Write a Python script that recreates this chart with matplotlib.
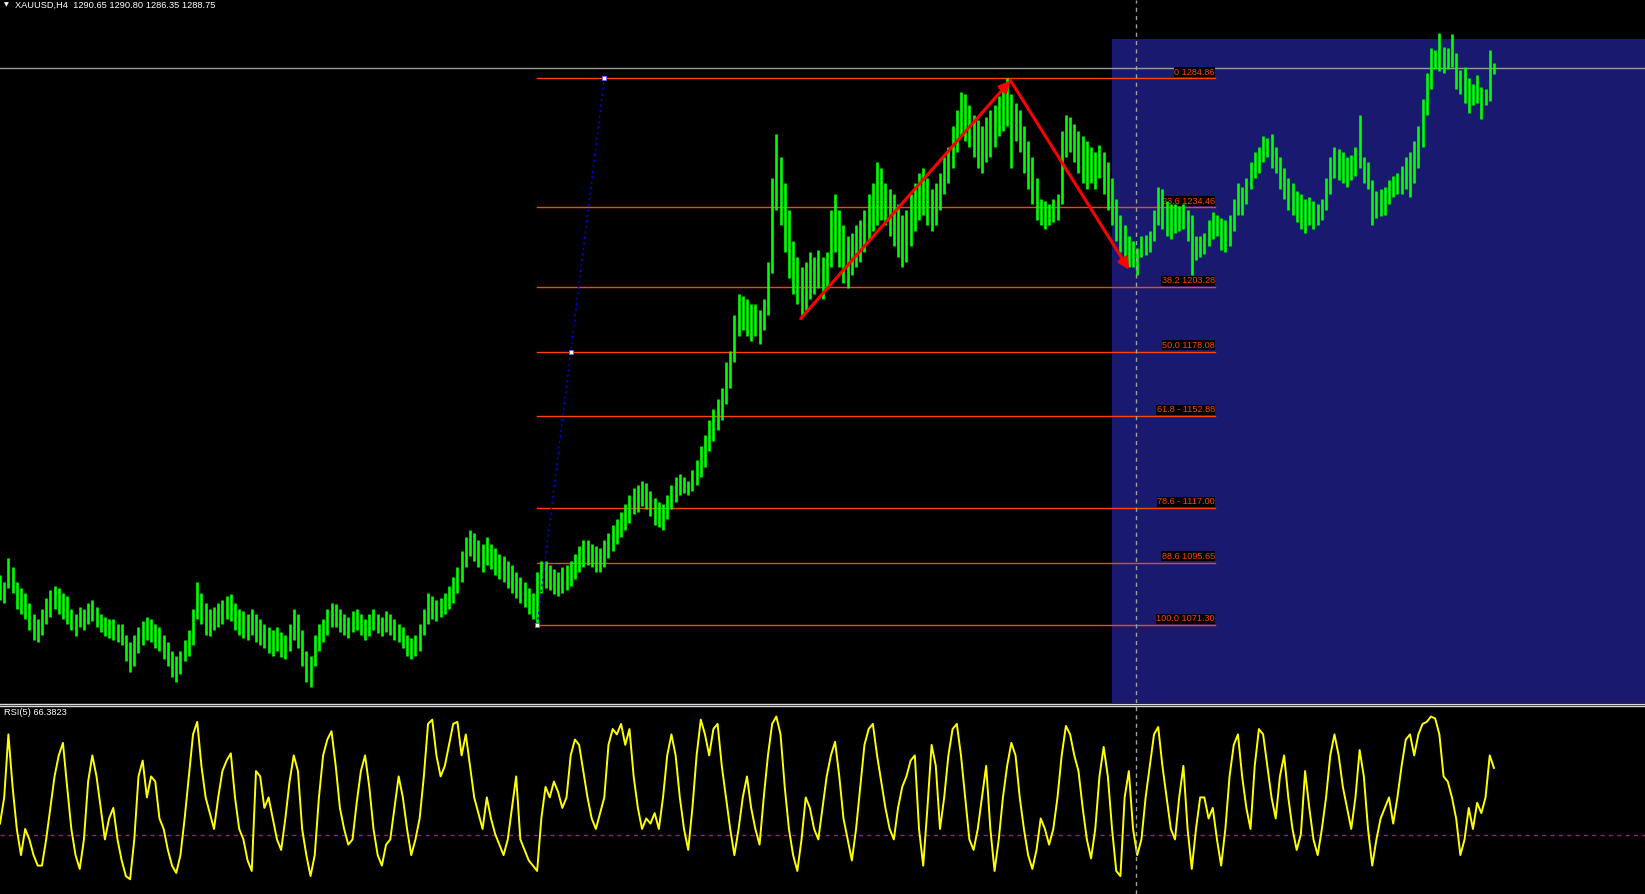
import matplotlib.pyplot as plt
from matplotlib.patches import Rectangle
from matplotlib.lines import Line2D

# XAUUSD H4 - every second bar (high / low)
highs = [
    1090.8, 1088.0, 1097.4, 1094.1, 1088.0, 1085.9, 1083.9, 1079.8, 1075.7, 1073.6,
    1077.7, 1081.8, 1085.1, 1086.7, 1085.9, 1083.9, 1082.6, 1077.7, 1075.7, 1078.5,
    1077.7, 1079.8, 1081.0, 1078.5, 1075.7, 1074.4, 1073.6, 1073.6, 1071.6, 1071.6,
    1067.5, 1064.6, 1067.5, 1070.3, 1072.8, 1074.4, 1073.6, 1071.6, 1070.3, 1067.5,
    1064.6, 1061.3, 1059.3, 1061.3, 1065.4, 1069.5, 1077.7, 1088.0, 1083.9, 1079.8,
    1077.7, 1078.5, 1079.8, 1081.0, 1082.6, 1083.4, 1079.8, 1077.7, 1076.9, 1075.7,
    1077.7, 1075.7, 1073.6, 1071.6, 1070.3, 1069.5, 1070.3, 1068.7, 1067.5, 1071.6,
    1077.7, 1075.7, 1069.5, 1061.3, 1059.3, 1067.5, 1071.6, 1073.6, 1077.7, 1079.8,
    1079.3, 1077.7, 1075.7, 1074.4, 1076.9, 1077.7, 1075.7, 1073.6, 1075.7, 1077.7,
    1075.7, 1074.4, 1076.9, 1075.7, 1073.6, 1071.6, 1070.3, 1067.5, 1066.2, 1067.5,
    1071.6, 1077.7, 1083.9, 1082.6, 1081.0, 1081.8, 1083.9, 1086.7, 1090.0, 1094.1,
    1100.3, 1105.6, 1108.5, 1107.2, 1104.4, 1103.1, 1105.6, 1103.1, 1101.5, 1099.0,
    1098.2, 1096.2, 1094.9, 1092.1, 1090.0, 1088.0, 1085.9, 1083.9, 1092.1, 1096.2,
    1096.2, 1094.9, 1093.3, 1092.1, 1094.1, 1094.9, 1096.2, 1099.0, 1102.3, 1104.4,
    1104.4, 1103.1, 1102.3, 1101.5, 1104.4, 1107.2, 1110.5, 1112.6, 1115.4, 1118.7,
    1122.0, 1124.9, 1126.1, 1127.7, 1126.9, 1123.6, 1120.8, 1119.5, 1118.7, 1122.0,
    1126.1, 1129.0, 1130.2, 1129.0, 1127.7, 1131.8, 1135.9, 1141.3, 1145.4, 1151.5,
    1155.6, 1159.7, 1163.8, 1174.1, 1178.2, 1192.5, 1200.7, 1199.9, 1198.7, 1196.6,
    1196.6, 1194.5, 1198.7, 1213.0, 1245.8, 1263.0, 1254.0, 1243.8, 1233.5, 1221.2,
    1215.1, 1211.0, 1213.0, 1217.1, 1215.1, 1217.9, 1215.1, 1217.1, 1233.5, 1239.7,
    1233.5, 1227.4, 1223.3, 1224.5, 1227.4, 1229.4, 1233.5, 1239.7, 1243.8, 1252.0,
    1249.9, 1243.8, 1241.7, 1239.7, 1235.6, 1231.5, 1233.5, 1239.7, 1243.8, 1247.9,
    1249.9, 1245.8, 1241.7, 1243.8, 1247.9, 1254.0, 1258.1, 1266.3, 1272.5, 1279.4,
    1278.6, 1274.5, 1270.4, 1268.4, 1266.3, 1269.6, 1272.5, 1274.5, 1277.8, 1280.7,
    1284.9, 1278.6, 1275.3, 1272.5, 1266.3, 1260.2, 1254.0, 1245.8, 1237.6, 1236.8,
    1235.6, 1237.6, 1239.7, 1264.3, 1270.4, 1269.6, 1267.1, 1264.3, 1262.2, 1260.2,
    1258.1, 1256.1, 1258.9, 1256.1, 1252.0, 1245.8, 1237.6, 1231.5, 1227.4, 1223.3,
    1221.2, 1218.7, 1223.3, 1223.7, 1225.3, 1233.5, 1242.5, 1241.7, 1236.8, 1235.6,
    1235.6, 1235.1, 1235.6, 1233.5, 1231.5, 1223.3, 1223.3, 1224.5, 1229.4, 1232.7,
    1231.5, 1230.2, 1229.4, 1231.5, 1237.6, 1243.8, 1242.5, 1245.8, 1252.0, 1256.1,
    1258.1, 1262.2, 1261.4, 1263.0, 1258.1, 1254.0, 1249.9, 1245.8, 1243.8, 1240.9,
    1239.7, 1237.6, 1238.4, 1236.8, 1235.6, 1237.6, 1245.8, 1254.0, 1258.1, 1257.3,
    1256.1, 1254.0, 1254.8, 1258.1, 1270.4, 1254.0, 1252.0, 1245.0, 1240.9, 1241.7,
    1242.5, 1245.0, 1246.6, 1247.9, 1250.7, 1254.0, 1256.1, 1260.2, 1266.3, 1276.6,
    1286.8, 1296.6, 1295.8, 1302.4, 1297.0, 1296.6, 1302.0, 1294.6, 1288.0, 1289.3,
    1284.8, 1282.7, 1286.0, 1281.5, 1280.7, 1296.0, 1290.8,
]
lows = [
    1081.0, 1079.8, 1085.9, 1083.9, 1077.7, 1075.7, 1073.6, 1069.5, 1065.4, 1064.6,
    1067.5, 1071.6, 1074.4, 1077.7, 1075.7, 1073.6, 1071.6, 1069.5, 1067.0, 1070.3,
    1069.5, 1071.6, 1072.8, 1070.3, 1068.7, 1067.0, 1066.2, 1065.4, 1064.6, 1063.4,
    1057.2, 1053.1, 1055.2, 1060.5, 1063.4, 1065.4, 1064.6, 1062.1, 1061.3, 1058.0,
    1055.2, 1051.1, 1049.0, 1052.3, 1057.2, 1059.3, 1063.4, 1073.6, 1071.6, 1067.5,
    1067.0, 1069.5, 1070.3, 1071.6, 1073.6, 1072.8, 1069.5, 1067.5, 1066.2, 1065.4,
    1067.5, 1064.6, 1063.4, 1062.1, 1060.5, 1059.3, 1061.3, 1058.8, 1058.0, 1061.3,
    1065.4, 1062.1, 1055.2, 1049.0, 1047.0, 1055.2, 1061.3, 1064.6, 1067.5, 1070.3,
    1070.3, 1068.7, 1067.5, 1066.2, 1068.7, 1069.5, 1067.5, 1065.4, 1067.0, 1069.5,
    1068.3, 1067.0, 1068.7, 1067.5, 1065.4, 1064.6, 1062.1, 1059.3, 1058.0, 1059.3,
    1061.3, 1067.5, 1071.6, 1073.6, 1072.8, 1074.4, 1075.7, 1077.7, 1079.8, 1083.9,
    1088.0, 1094.1, 1098.2, 1096.2, 1094.1, 1092.1, 1094.9, 1093.3, 1090.8, 1089.2,
    1088.0, 1085.9, 1083.9, 1081.8, 1079.8, 1078.5, 1075.7, 1073.6, 1071.3, 1083.9,
    1085.9, 1085.1, 1083.4, 1082.6, 1083.9, 1085.1, 1086.7, 1089.2, 1092.1, 1094.1,
    1094.9, 1094.1, 1092.1, 1092.1, 1094.1, 1097.4, 1100.3, 1103.1, 1105.6, 1108.5,
    1111.3, 1114.6, 1115.4, 1117.9, 1116.7, 1113.8, 1110.5, 1109.7, 1108.5, 1112.6,
    1116.7, 1119.5, 1122.0, 1122.8, 1122.0, 1123.6, 1126.1, 1129.0, 1133.1, 1139.2,
    1143.3, 1147.4, 1151.5, 1157.6, 1163.8, 1174.1, 1184.3, 1186.4, 1184.3, 1182.3,
    1184.3, 1181.0, 1186.4, 1192.5, 1208.9, 1233.5, 1227.4, 1217.1, 1206.9, 1200.7,
    1196.6, 1191.7, 1194.5, 1198.7, 1200.7, 1202.8, 1198.7, 1202.8, 1211.0, 1217.1,
    1211.0, 1204.8, 1202.8, 1208.1, 1211.0, 1213.0, 1217.1, 1221.2, 1225.3, 1227.4,
    1229.4, 1227.4, 1223.3, 1219.2, 1215.1, 1211.0, 1213.0, 1219.2, 1225.3, 1229.4,
    1231.5, 1227.4, 1225.3, 1227.4, 1233.5, 1239.7, 1243.8, 1249.9, 1256.1, 1262.2,
    1260.2, 1258.1, 1254.0, 1249.9, 1247.9, 1252.0, 1254.0, 1258.1, 1262.2, 1264.3,
    1266.3, 1249.9, 1260.2, 1256.1, 1247.9, 1241.7, 1235.6, 1229.4, 1227.4, 1226.1,
    1227.4, 1228.6, 1229.4, 1235.6, 1254.0, 1256.1, 1252.0, 1247.9, 1243.8, 1241.7,
    1243.8, 1241.7, 1245.8, 1239.7, 1233.5, 1227.4, 1221.2, 1217.1, 1213.0, 1211.0,
    1211.0, 1208.1, 1215.1, 1215.9, 1217.1, 1221.2, 1227.4, 1226.1, 1223.3, 1222.0,
    1224.5, 1225.3, 1226.1, 1221.2, 1208.1, 1213.8, 1215.1, 1216.3, 1219.2, 1222.0,
    1223.3, 1217.9, 1217.1, 1219.2, 1225.3, 1231.5, 1231.5, 1235.6, 1241.7, 1245.8,
    1247.9, 1252.0, 1254.0, 1249.9, 1247.9, 1241.7, 1237.6, 1233.5, 1231.5, 1228.6,
    1226.1, 1224.5, 1227.4, 1226.1, 1227.4, 1229.4, 1233.5, 1239.7, 1245.8, 1245.0,
    1243.8, 1242.5, 1245.0, 1246.6, 1249.9, 1243.8, 1241.7, 1227.4, 1230.2, 1231.0,
    1231.5, 1235.6, 1238.4, 1239.7, 1239.7, 1241.7, 1238.4, 1243.8, 1249.9, 1258.1,
    1270.4, 1280.7, 1288.4, 1287.6, 1286.8, 1288.4, 1289.3, 1280.7, 1278.6, 1275.3,
    1271.2, 1274.5, 1275.3, 1268.8, 1274.5, 1276.1, 1286.35,
]
# RSI(5), one value per drawn bar
rsi5 = [
    36.2, 50.4, 84.6, 56.1, 33.3, 19.1, 33.3, 27.6, 19.1, 13.4,
    13.4, 27.6, 44.7, 61.8, 73.2, 80.0, 56.1, 33.3, 19.1, 11.6,
    27.6, 59.0, 73.2, 61.8, 44.7, 27.6, 39.0, 44.7, 27.6, 16.2,
    7.7, 6.0, 27.6, 61.8, 70.4, 50.4, 61.8, 59.0, 39.0, 33.3,
    21.9, 13.4, 9.4, 19.1, 39.0, 61.8, 84.6, 91.4, 67.5, 50.4,
    41.9, 33.3, 50.4, 64.7, 70.4, 74.3, 50.4, 33.3, 27.6, 16.2,
    10.5, 64.7, 61.8, 44.7, 50.4, 39.0, 27.6, 21.9, 39.0, 59.0,
    73.2, 64.7, 33.3, 19.1, 7.7, 19.1, 50.4, 73.2, 81.8, 86.3,
    67.5, 44.7, 33.3, 24.8, 27.6, 47.5, 64.7, 73.2, 56.1, 33.3,
    19.1, 13.4, 24.8, 27.6, 44.7, 61.8, 50.4, 33.3, 19.1, 27.6,
    39.0, 61.8, 90.3, 92.6, 73.2, 61.8, 67.5, 78.9, 90.3, 91.4,
    73.2, 84.6, 67.5, 50.4, 41.9, 33.3, 50.4, 39.0, 30.5, 24.8,
    19.1, 27.6, 44.7, 61.8, 27.6, 21.9, 16.2, 13.4, 10.5, 39.0,
    56.1, 50.4, 59.0, 53.3, 44.7, 50.4, 73.2, 81.8, 78.9, 64.7,
    50.4, 39.0, 33.3, 41.9, 50.4, 78.9, 87.5, 84.6, 90.3, 78.9,
    87.5, 61.8, 44.7, 33.3, 39.0, 36.2, 41.9, 33.3, 50.4, 73.2,
    84.6, 73.2, 50.4, 33.3, 21.9, 44.7, 73.2, 92.6, 84.6, 73.2,
    87.5, 90.3, 67.5, 50.4, 33.3, 19.1, 33.3, 50.4, 61.8, 44.7,
    33.3, 24.8, 50.4, 73.2, 90.3, 94.3, 84.6, 56.1, 33.3, 19.1,
    10.5, 27.6, 50.4, 44.7, 33.3, 27.6, 44.7, 61.8, 73.2, 80.6,
    61.8, 39.0, 27.6, 16.2, 33.3, 56.1, 78.9, 87.5, 90.3, 73.2,
    59.0, 44.7, 33.3, 27.6, 44.7, 56.1, 61.8, 70.4, 73.2, 33.3,
    13.4, 44.7, 78.9, 67.5, 33.3, 50.4, 73.2, 87.5, 90.3, 73.2,
    50.4, 27.6, 21.9, 33.3, 50.4, 67.5, 33.3, 10.5, 27.6, 50.4,
    67.5, 80.0, 73.2, 50.4, 33.3, 19.1, 11.6, 21.9, 39.0, 33.3,
    24.8, 33.3, 50.4, 73.2, 89.2, 84.6, 73.2, 64.7, 44.7, 27.6,
    17.3, 33.3, 61.8, 77.8, 61.8, 33.3, 10.5, 7.7, 50.4, 64.7,
    33.3, 19.1, 27.6, 50.4, 67.5, 84.6, 88.6, 67.5, 50.4, 33.3,
    27.6, 50.4, 67.5, 33.3, 11.6, 33.3, 50.4, 50.4, 39.0, 44.7,
    27.6, 13.4, 33.3, 61.8, 78.9, 84.6, 61.8, 44.7, 33.3, 67.5,
    87.5, 84.6, 67.5, 50.4, 39.0, 61.8, 73.2, 50.4, 33.3, 21.9,
    30.5, 64.7, 44.7, 27.6, 19.1, 33.3, 50.4, 73.2, 84.6, 73.2,
    56.1, 44.7, 33.3, 50.4, 76.1, 61.8, 33.3, 13.4, 27.6, 39.0,
    44.7, 50.4, 36.2, 50.4, 67.5, 81.8, 84.6, 73.2, 84.6, 90.3,
    91.4, 94.3, 93.2, 84.6, 61.8, 59.0, 50.4, 39.0, 19.1, 27.6,
    44.7, 33.3, 47.5, 41.9, 50.4, 73.2, 66.4,
]

# fibonacci retracement object
fib_prices = [1284.86, 1234.46, 1203.28, 1178.08, 1152.88, 1117.00, 1095.65, 1071.30]
fib_labels = ['0 1284.86', '23.6 1234.46', '38.2 1203.28', '50.0 1178.08',
              '61.8 - 1152.88', '78.6 - 1117.00', '88.6 1095.65', '100.0 1071.30']
fib_start, fib_end = 128, 289.5
fib_anchor_bars = [128, 136, 144]
fib_anchor_prices = [1071.30, 1178.08, 1284.86]

# hand drawn arrows
arrow_bars = [190.8, 240.8, 269.1]
arrow_prices = [1191.0, 1284.0, 1210.0]

box_start = 265          # blue rectangle
box_top = 1300.2
cross_bar = 270.8        # crosshair
last_price = 1288.75
rsi_level = 30

header = 'XAUUSD,H4  1290.65 1290.80 1286.35 1288.75'
rsi_title = 'RSI(5) 66.3823'

W, H = 1645, 894
fig = plt.figure(figsize=(W / 100, H / 100), dpi=100, facecolor='black')
ax = fig.add_axes([0, 191 / H, 1, 703 / H])
ax2 = fig.add_axes([0, 0, 1, 188 / H], sharex=ax)
for a in (ax, ax2):
    a.set_axis_off()
ax.set_xlim(0, 392)
ax.set_ylim(1040.8, 1315.45)
ax2.set_ylim(-2, 100)

x = list(range(len(highs)))

ax.add_patch(Rectangle((box_start, 1000), 200, box_top - 1000,
                       facecolor='#191970', edgecolor='none', zorder=0))
ax.axhline(last_price, color='#9a9a9a', lw=1, zorder=1)

# fib levels
fib_color = '#ff4500'
for p, lab in zip(fib_prices, fib_labels):
    ax.plot([fib_start, fib_end], [p, p], color=fib_color, lw=1, zorder=2)
    ax.annotate(lab, (fib_end, p), xytext=(0, 1.2), textcoords='offset points',
                ha='right', va='bottom', color=fib_color, fontsize=6.6,
                family='Liberation Sans', zorder=2,
                bbox=dict(facecolor='black', edgecolor='none', pad=0.4))

# bars
ax.vlines(x, lows, highs, color='#00ff00', lw=1.9, zorder=3)

# fib base line
ax.plot(fib_anchor_bars, fib_anchor_prices, color='#0000ff', lw=1,
        ls=(0, (1.5, 2.5)), zorder=4)
ax.plot(fib_anchor_bars, fib_anchor_prices, ls='none', marker='s', ms=2.5,
        mfc='white', mec='#6060ff', mew=0.6, zorder=4)

# red arrows
for k in range(2):
    ax.annotate('', xy=(arrow_bars[k + 1], arrow_prices[k + 1]),
                xytext=(arrow_bars[k], arrow_prices[k]),
                arrowprops=dict(arrowstyle='-|>', color='#ff0000', lw=2.2,
                                mutation_scale=16, shrinkA=0, shrinkB=0),
                zorder=5)

# RSI window
ax2.plot(x, rsi5, color='#ffff00', lw=1.4, zorder=3)
ax2.axhline(rsi_level, color='#8b1f8b', lw=1, ls=(0, (3, 3)), zorder=2)

# crosshair through both windows
for a in (ax, ax2):
    a.axvline(cross_bar, color='#a0a0a0', lw=1, ls=(0, (3, 3)), zorder=10)

# window separator
for yy in (703.5, 705.5):
    fig.add_artist(Line2D([0, 1], [1 - yy / H, 1 - yy / H], transform=fig.transFigure,
                          color='#d8d8d8', lw=1))

fig.text(4 / W, 1 - 2 / H, '\u25bc', color='white', fontsize=4.5,
         family='DejaVu Sans', va='top', ha='left')
fig.text(15 / W, 1 - 0.5 / H, header, color='white', fontsize=6.7,
         family='Liberation Sans', va='top', ha='left')
fig.text(4 / W, 1 - 708 / H, rsi_title, color='white', fontsize=6.7,
         family='Liberation Sans', va='top', ha='left')

fig.savefig('out.png', dpi=100, facecolor='black')
